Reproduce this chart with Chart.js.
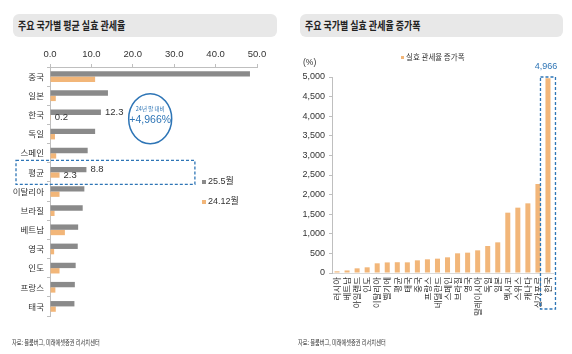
<!DOCTYPE html>
<html>
<head>
<meta charset="utf-8">
<script src="https://cdn.jsdelivr.net/npm/chart.js@4.4.1/dist/chart.umd.min.js"></script>
<style>
  body { margin: 0; width: 572px; height: 354px; background: #fff; position: relative; overflow: hidden;
         font-family: "Liberation Sans", "Noto Sans CJK KR", sans-serif; color: #333; }
  .title { position: absolute; top: 14px; height: 23px; background: #e8e8e8; border-radius: 6px; }
  .title span { position: absolute; left: 5px; top: 0; line-height: 23px; font-size: 11.5px; font-weight: bold;
                color: #222; white-space: nowrap; transform: scaleX(0.78); transform-origin: left center;
                font-family: "Noto Sans CJK KR", sans-serif; }
  .src { position: absolute; top: 337px; font-size: 6.5px; white-space: nowrap; color: #333;
         transform: scaleX(0.8); transform-origin: left top; font-family: "Noto Sans CJK KR", sans-serif; }
  .leg { position: absolute; font-size: 9px; white-space: nowrap; color: #333; }
  .leg i { display: inline-block; width: 4px; height: 4px; margin-right: 2px; vertical-align: middle; }
  canvas { position: absolute; top: 0; }
</style>
</head>
<body>
<div class="title" style="left:13px;width:264px"><span>주요 국가별 평균 실효 관세율</span></div>
<div class="title" style="left:300px;width:263px"><span>주요 국가별 실효 관세율 증가폭</span></div>

<canvas id="rateChart" width="290" height="354" style="left:0"></canvas>
<canvas id="incChart" width="282" height="354" style="left:290px"></canvas>

<div class="leg" style="left:202px;top:174px"><i style="background:#8a8a8a"></i>25.5월</div>
<div class="leg" style="left:202px;top:194px"><i style="background:#f2b679"></i>24.12월</div>
<div class="leg" style="left:401px;top:51px;font-size:7.5px;font-family:'Noto Sans CJK KR'"><i style="background:#f2b679;width:3px;height:3px"></i>실효 관세율 증가폭</div>
<div class="leg" style="left:303px;top:57px;font-size:8.5px">(%)</div>

<div class="src" style="left:12px">자료: 블룸버그, 미래에셋증권 리서치센터</div>
<div class="src" style="left:298px">자료: 블룸버그, 미래에셋증권 리서치센터</div>

<script>
// left chart: average effective tariff rate (%)
const countries = ["중국", "일본", "한국", "독일", "스페인", "평균", "이탈리아", "브라질", "베트남", "영국", "인도", "프랑스", "태국"];
const rateMay25 = [48.3, 14.0, 12.3, 10.9, 9.1, 8.8, 8.3, 7.9, 6.8, 6.7, 6.2, 6.0, 5.9];
const rateDec24 = [10.9, 1.4, 0.2, 1.2, 1.5, 2.3, 2.3, 1.1, 3.6, 1.0, 2.3, 1.3, 1.4];
const seriesNames = ["25.5월", "24.12월"];
const labelledRows = ["한국", "평균"];

// right chart: increase of effective tariff rate (%)
const incCountries = ["러시아", "베트남", "아일랜드", "인도", "이탈리아", "벨기에", "평균", "태국", "중국", "프랑스",
  "네덜란드", "스페인", "브라질", "영국", "말레이시아", "독일", "일본", "멕시코", "스위스", "캐나다", "싱가포르", "한국"];
const incValues = [43, 65, 119, 145, 247, 270, 275, 272, 323, 349, 366, 400, 502, 519, 578, 689, 782, 1539, 1667, 1777, 2270, 4966];
const incName = "실효 관세율 증가폭";

const GRAY = "#8a8a8a";
const ORANGE = "#f2b679";
const BLUE = "#2e75b6";
const AXIS = "#bfbfbf";

Chart.defaults.font.family = "'Liberation Sans', 'Noto Sans CJK KR', sans-serif";
Chart.defaults.color = "#333";

// labels, dashed box and the circle on the left chart
const rateNotes = {
  id: "rateNotes",
  afterDatasetsDraw(chart) {
    const ctx = chart.ctx;
    const xs = chart.scales.x, ys = chart.scales.y;
    ctx.save();
    ctx.font = "9.5px 'Liberation Sans'";
    ctx.fillStyle = "#333";
    ctx.textBaseline = "middle";
    labelledRows.forEach((name) => {
      const i = countries.indexOf(name);
      [0, 1].forEach((d) => {
        const bar = chart.getDatasetMeta(d).data[i];
        ctx.fillText(chart.data.datasets[d].data[i].toFixed(1), bar.x + 4, bar.y);
      });
    });

    // dashed box round the average row
    const yc = ys.getPixelForValue(countries.indexOf("평균"));
    ctx.strokeStyle = BLUE;
    ctx.lineWidth = 1.3;
    ctx.setLineDash([3, 2]);
    ctx.strokeRect(chart.chartArea.left - 34, yc - 12, xs.getPixelForValue(35) - chart.chartArea.left + 34, 24);

    // circle with the note
    ctx.setLineDash([]);
    ctx.lineWidth = 1.5;
    const cx = xs.getPixelForValue(24.2), cy = ys.getPixelForValue(2.2);
    ctx.beginPath();
    ctx.ellipse(cx, cy, 21.5, 25, 0, 0, Math.PI * 2);
    ctx.stroke();
    ctx.fillStyle = BLUE;
    ctx.textAlign = "center";
    ctx.font = "5.5px 'Noto Sans CJK KR'";
    ctx.fillText("24년 말 대비", cx, cy - 10);
    ctx.font = "10.5px 'Liberation Sans'";
    ctx.fillText("+4,966%", cx, cy + 1);
    ctx.restore();
  },
};

new Chart(document.getElementById("rateChart"), {
  type: "bar",
  data: {
    labels: countries,
    datasets: [
      { label: seriesNames[0], data: rateMay25, backgroundColor: GRAY },
      { label: seriesNames[1], data: rateDec24, backgroundColor: ORANGE },
    ],
  },
  options: {
    indexAxis: "y",
    responsive: false,
    animation: false,
    datasets: { bar: { categoryPercentage: 0.56, barPercentage: 1.0 } },
    layout: { padding: { left: 0, top: 40, right: 33, bottom: 38 } },
    plugins: { legend: { display: false }, tooltip: { enabled: false } },
    scales: {
      x: {
        position: "top",
        min: 0,
        max: 50,
        ticks: { stepSize: 10, callback: (v) => v.toFixed(1), font: { size: 9.5 }, padding: 4 },
        grid: { drawOnChartArea: false, tickLength: 3, color: AXIS },
        border: { color: AXIS },
        afterFit: (s) => { s.height = 27; },
      },
      y: {
        ticks: { font: { size: 8.5, family: "'Noto Sans CJK KR'" }, padding: 3 },
        grid: { drawOnChartArea: false, offset: true, tickLength: 3, color: AXIS },
        border: { color: AXIS },
        afterFit: (s) => { s.width = 50; },
      },
    },
  },
  plugins: [rateNotes],
});

// dashed box and value on Korea in the right chart
const incNotes = {
  id: "incNotes",
  afterDatasetsDraw(chart) {
    const ctx = chart.ctx;
    const xs = chart.scales.x, ys = chart.scales.y;
    const i = incCountries.indexOf("한국");
    const xc = xs.getPixelForValue(i);
    const top = ys.getPixelForValue(5000);
    ctx.save();
    ctx.strokeStyle = BLUE;
    ctx.lineWidth = 1.3;
    ctx.setLineDash([3, 2]);
    ctx.strokeRect(xc - 7.5, top, 15, chart.chartArea.bottom + 36 - top);
    ctx.fillStyle = BLUE;
    ctx.textAlign = "center";
    ctx.textBaseline = "middle";
    ctx.font = "9px 'Liberation Sans'";
    ctx.fillText(incValues[i].toLocaleString("en-US"), xc - 2, top - 10);
    ctx.restore();
  },
};

new Chart(document.getElementById("incChart"), {
  type: "bar",
  data: {
    labels: incCountries,
    datasets: [{ label: incName, data: incValues, backgroundColor: ORANGE }],
  },
  options: {
    responsive: false,
    animation: false,
    datasets: { bar: { categoryPercentage: 1.0, barPercentage: 0.5 } },
    layout: { padding: { left: 0, top: 77, right: 19, bottom: 21 } },
    plugins: { legend: { display: false }, tooltip: { enabled: false } },
    scales: {
      x: {
        ticks: { autoSkip: false, minRotation: 90, maxRotation: 90, font: { size: 8.5, family: "'Noto Sans CJK KR'" }, padding: 4 },
        grid: { display: false, drawTicks: false },
        border: { color: "#d9d9d9" },
        afterFit: (s) => { s.height = 60; },
      },
      y: {
        min: 0,
        max: 5000,
        ticks: { stepSize: 500, callback: (v) => v.toLocaleString("en-US"), font: { size: 9 }, padding: 4 },
        grid: { drawOnChartArea: false, tickLength: 3, color: AXIS },
        border: { color: AXIS },
        afterFit: (s) => { s.width = 42; },
      },
    },
  },
  plugins: [incNotes],
});
</script>
</body>
</html>
